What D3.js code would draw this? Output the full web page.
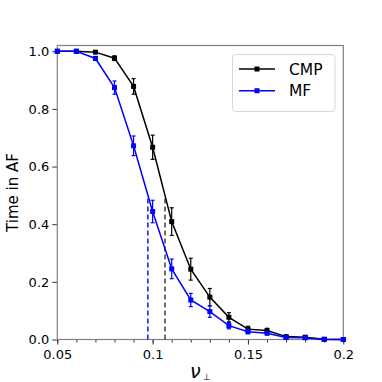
<!DOCTYPE html>
<html><head><meta charset="utf-8">
<script src="https://cdn.jsdelivr.net/npm/d3@7"></script>
<style>body{margin:0;background:#fff}svg{display:block}text{font-family:"DejaVu Sans",sans-serif}</style>
</head><body><svg id="c" width="382" height="382"></svg>
<script>
const nu = [0.05,0.06,0.07,0.08,0.09,0.10,0.11,0.12,0.13,0.14,0.15,0.16,0.17,0.18,0.19,0.20];
const cmp = [1.0,1.0,0.997,0.976,0.878,0.667,0.409,0.244,0.147,0.077,0.036,0.031,0.010,0.008,0.001,0.0];
const cmpErr = [0,0,0.003,0.008,0.027,0.042,0.048,0.038,0.030,0.016,0.010,0.008,0.004,0.003,0.001,0];
const mf = [1.0,1.0,0.975,0.874,0.672,0.444,0.245,0.137,0.097,0.048,0.027,0.022,0.007,0.006,0.0,0.0];
const mfErr = [0,0.002,0.007,0.023,0.034,0.039,0.034,0.023,0.020,0.011,0.007,0.006,0.003,0.003,0.001,0];
const critical = [{name:"CMP", x:0.1065}, {name:"MF", x:0.0975}];
const xTicks = [0.05,0.1,0.15,0.2];
const xTickLabels = ["0.05","0.1","0.15","0.2"];
const yTicks = [0,0.2,0.4,0.6,0.8,1.0];
const seriesNames = ["CMP","MF"];
const seriesColors = {CMP:"#000000", MF:"#0000ff"};

const svg = d3.select("#c");
const L=57.3, R=343.3, T=45.5, B=339.5;
const x = d3.scaleLinear().domain([0.05,0.2]).range([L,R]);
const y = d3.scaleLinear().domain([0,1.02]).range([B,T]);

// axes
const xAxis = d3.axisBottom(x).tickValues(xTicks).tickFormat((d,i)=>xTickLabels[i]).tickSize(5).tickPadding(3);
const gx = svg.append("g").attr("transform",`translate(0,${B})`).call(xAxis);
const minor = d3.range(0.05,0.2001,0.01);
const gxm = svg.append("g").attr("transform",`translate(0,${B})`).call(d3.axisBottom(x).tickValues(minor).tickFormat("").tickSize(3));
gxm.select(".domain").remove();
const gy = svg.append("g").attr("transform",`translate(${L},0)`).call(d3.axisLeft(y).tickValues(yTicks).tickFormat(d3.format(".1f")).tickSize(5).tickPadding(3));
[gx,gy,gxm].forEach(g=>{
  g.selectAll(".domain").remove();
  g.selectAll("line").attr("stroke","#333").attr("stroke-width",1);
  g.selectAll("text").attr("font-size",13).attr("fill","#000").attr("font-family","DejaVu Sans");
});
gx.selectAll("text").attr("dy","0.9em");
// frame
svg.append("rect").attr("x",L).attr("y",T).attr("width",R-L).attr("height",B-T)
  .attr("fill","none").attr("stroke","#808080").attr("stroke-width",1.2);

// dashed critical lines
critical.forEach(c=>{
  svg.append("line").attr("x1",x(c.x)).attr("x2",x(c.x)).attr("y1",y(0)).attr("y2",y(0.5))
    .attr("stroke", c.name==="MF"?"#0000ff":"#333").attr("stroke-width",1.4).attr("stroke-dasharray","5,3");
});

const data = {CMP: nu.map((v,i)=>({x:v,y:cmp[i],e:cmpErr[i]})), MF: nu.map((v,i)=>({x:v,y:mf[i],e:mfErr[i]}))};
const line = d3.line().x(d=>x(d.x)).y(d=>y(d.y));
["CMP","MF"].forEach(s=>{
  const col = seriesColors[s];
  const g = svg.append("g");
  g.append("path").datum(data[s]).attr("d",line).attr("fill","none").attr("stroke",col).attr("stroke-width",1.5);
  const eb = g.selectAll(".eb").data(data[s].filter(d=>d.e>0)).enter().append("g");
  eb.append("line").attr("x1",d=>x(d.x)).attr("x2",d=>x(d.x)).attr("y1",d=>y(d.y-d.e)).attr("y2",d=>y(d.y+d.e)).attr("stroke",col).attr("stroke-width",1.2);
  eb.append("line").attr("x1",d=>x(d.x)-2).attr("x2",d=>x(d.x)+2).attr("y1",d=>y(d.y-d.e)).attr("y2",d=>y(d.y-d.e)).attr("stroke",col).attr("stroke-width",1.2);
  eb.append("line").attr("x1",d=>x(d.x)-2).attr("x2",d=>x(d.x)+2).attr("y1",d=>y(d.y+d.e)).attr("y2",d=>y(d.y+d.e)).attr("stroke",col).attr("stroke-width",1.2);
  g.selectAll("rect.m").data(data[s]).enter().append("rect")
    .attr("x",d=>x(d.x)-2.5).attr("y",d=>y(d.y)-2.5).attr("width",5).attr("height",5).attr("fill",col);
});

// legend
const lg = svg.append("g");
lg.append("rect").attr("x",232.5).attr("y",54.5).attr("width",102.5).attr("height",57).attr("rx",3)
  .attr("fill","#fff").attr("fill-opacity",0.8).attr("stroke","#d8d8d8").attr("stroke-width",1);
seriesNames.forEach((s,i)=>{
  const yy = 69 + i*21.7;
  lg.append("line").attr("x1",239).attr("x2",275).attr("y1",yy).attr("y2",yy).attr("stroke",seriesColors[s]).attr("stroke-width",1.5);
  lg.append("rect").attr("x",254.5).attr("y",yy-2.5).attr("width",5).attr("height",5).attr("fill",seriesColors[s]);
  lg.append("text").attr("x",289).attr("y",yy).attr("dy","0.36em").attr("font-size",15.5).text(s);
});

// axis labels
svg.append("text").attr("transform",`translate(18,${(T+B)/2}) rotate(-90)`).attr("text-anchor","middle")
  .attr("font-size",15).text("Time in AF");
const xl = svg.append("text").attr("x",190).attr("y",377.5).attr("text-anchor","start").attr("font-size",19);
xl.append("tspan").attr("font-style","italic").text("ν");
xl.append("tspan").attr("font-size",9).attr("dx",2).attr("dy",2).text("⊥");
</script></body></html>
